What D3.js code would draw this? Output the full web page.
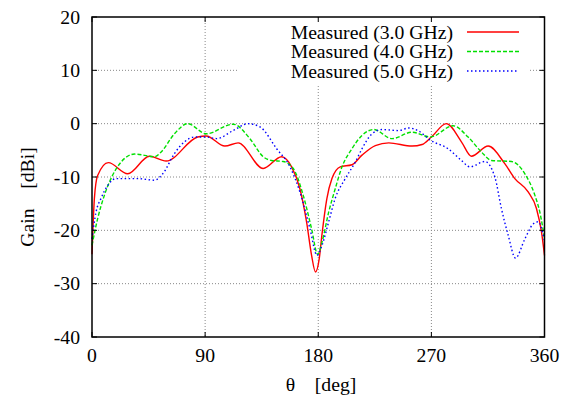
<!DOCTYPE html>
<html>
<head>
<meta charset="utf-8">
<script src="https://cdn.jsdelivr.net/npm/d3@7"></script>
<style>
  body { margin: 0; background: #fff; }
  text { font-family: "Liberation Serif", "DejaVu Serif", serif; }
</style>
</head>
<body>
<svg id="chart" width="564" height="403"></svg>
<script>
// measured gain patterns
var theta3 = [0, 1.9, 4.5, 13, 28.4, 45.7, 59, 84, 90.8, 105.7, 116.3, 136.2, 150.8, 158.8, 165.4, 170.7, 174.7, 177.8, 180.8, 182.9, 186.9, 190.9, 197.5, 206.8, 214.8, 225.4, 236.1, 254.6, 262.6, 270, 281.9, 293.9, 301.8, 315.2, 328.4, 336.4, 347, 353.6, 357.6, 360];
var gain3  = [-24.5, -14, -9.7, -7.3, -9.4, -6.1, -7.0, -2.5, -2.3, -4.2, -3.6, -8.4, -6.2, -8.1, -12.2, -18.4, -24.7, -27.8, -25.3, -20.9, -14, -10.3, -8.1, -7.7, -5.9, -4.1, -3.6, -4.2, -3.9, -2.5, 0, -3.4, -6.1, -4.2, -7.5, -10.3, -12.8, -15.9, -20.3, -24.7];

var theta4 = [0, 4.5, 9.9, 15.1, 23.1, 33.8, 49.7, 55, 65.6, 76.2, 90.8, 112.3, 125.6, 136.2, 142.9, 152.1, 160.1, 168, 174.7, 179.5, 183, 188.3, 193.5, 198.9, 206.8, 214.8, 224.1, 238.7, 254.6, 269.2, 287.3, 299.2, 309.8, 317.8, 333.7, 344.4, 352.3, 356.3, 360];
var gain4  = [-22.8, -17.8, -13.4, -10.3, -7.2, -5.7, -6.2, -5.3, -1.9, 0, -1.9, -0.1, -2.8, -6.2, -6.9, -7.1, -8.4, -13.4, -19.7, -24.5, -22.2, -16.6, -12.2, -8.1, -4.7, -2.2, -1.1, -2.8, -1.6, -2.5, -0.4, -2.5, -5.3, -6.9, -7.1, -9.4, -13.4, -16.6, -21.5];

var theta5 = [0, 3.2, 7.2, 12.5, 19.1, 36.4, 49.7, 56.3, 65.6, 73.6, 81.6, 90.8, 99.1, 112.3, 124.2, 133.6, 146.9, 157.5, 165.4, 173.4, 179, 183, 188.3, 193.5, 201.5, 209.5, 214.8, 222.8, 230.7, 244, 252, 260, 269.2, 283.3, 293.9, 300.6, 312.5, 320.5, 325.7, 331.1, 336.9, 344.4, 351, 355, 360];
var gain5  = [-21.6, -16.6, -14, -11.6, -10.3, -10.3, -10.6, -9.4, -5.6, -3.4, -2.5, -2.5, -2.8, -1.3, 0, -0.6, -4.7, -8.1, -12.8, -19.7, -24.7, -22.8, -18.4, -14, -10.3, -7.2, -4.7, -1.9, -1.1, -1.3, -0.8, -1.4, -3.1, -4.7, -6.9, -8.1, -7.1, -10, -15.9, -20.9, -25.2, -21.6, -18.8, -18.4, -22];

var seriesNames  = ["Measured (3.0 GHz)", "Measured (4.0 GHz)", "Measured (5.0 GHz)"];
var seriesColors = ["#ff0000", "#00e000", "#0000ff"];
var seriesDash   = [null, "4,2", "1.5,2.5"];

var xTicks = [0, 90, 180, 270, 360];
var yTicks = [-40, -30, -20, -10, 0, 10, 20];

var svg = d3.select("#chart");
var pLeft = 92, pRight = 544.5, pTop = 17, pBottom = 337;
var fs = 19.7;

var x = d3.scaleLinear().domain([0, 360]).range([pLeft, pRight]);
var y = d3.scaleLinear().domain([-40, 20]).range([pBottom, pTop]);

// grid
var grid = svg.append("g").attr("stroke", "#888").attr("stroke-dasharray", "1,2").attr("stroke-width", 1);
grid.selectAll(".gx").data(xTicks.slice(1, -1)).enter().append("line")
  .attr("x1", d => x(d)).attr("x2", d => x(d)).attr("y1", pTop).attr("y2", pBottom);
grid.selectAll(".gy").data(yTicks.slice(1, -1)).enter().append("line")
  .attr("y1", d => y(d)).attr("y2", d => y(d)).attr("x1", pLeft).attr("x2", pRight);

// white box behind the key
svg.append("rect").attr("x", 238).attr("y", 19).attr("width", 292).attr("height", 66).attr("fill", "#fff");

// curves
var line = d3.line().x(d => x(d[0])).y(d => y(d[1])).curve(d3.curveMonotoneX);
var data = [d3.zip(theta3, gain3), d3.zip(theta4, gain4), d3.zip(theta5, gain5)];
var plot = svg.append("g");
data.forEach(function(s, i) {
  plot.append("path").datum(s)
    .attr("d", line)
    .attr("fill", "none")
    .attr("stroke", seriesColors[i])
    .attr("stroke-width", 1.4)
    .attr("stroke-dasharray", seriesDash[i]);
});

// frame + inward ticks on all sides
svg.append("rect").attr("x", pLeft).attr("y", pTop).attr("width", pRight - pLeft).attr("height", pBottom - pTop)
  .attr("fill", "none").attr("stroke", "#000").attr("stroke-width", 1.5);

var tl = 5;
var ticks = svg.append("g").attr("stroke", "#000").attr("stroke-width", 1);
yTicks.forEach(function(t) {
  ticks.append("line").attr("x1", pLeft).attr("x2", pLeft + tl).attr("y1", y(t)).attr("y2", y(t));
  ticks.append("line").attr("x1", pRight).attr("x2", pRight - tl).attr("y1", y(t)).attr("y2", y(t));
});
xTicks.forEach(function(t) {
  ticks.append("line").attr("x1", x(t)).attr("x2", x(t)).attr("y1", pBottom).attr("y2", pBottom - tl);
  ticks.append("line").attr("x1", x(t)).attr("x2", x(t)).attr("y1", pTop).attr("y2", pTop + tl);
});

// tick labels
svg.selectAll(".yl").data(yTicks).enter().append("text")
  .attr("x", pLeft - 12).attr("y", d => y(d) + 6.5)
  .attr("text-anchor", "end").attr("font-size", fs).text(d => d);
svg.selectAll(".xl").data(xTicks).enter().append("text")
  .attr("x", d => x(d)).attr("y", 362)
  .attr("text-anchor", "middle").attr("font-size", fs).text(d => d);

// axis titles
svg.append("text").attr("x", 321).attr("y", 391).attr("text-anchor", "middle")
  .attr("font-size", fs).attr("xml:space", "preserve").text("θ    [deg]");
svg.append("text").attr("transform", "translate(34,197) rotate(-90)").attr("text-anchor", "middle")
  .attr("font-size", fs).attr("xml:space", "preserve").text("Gain    [dBi]");

// key
seriesNames.forEach(function(n, i) {
  var ky = 32 + i * 19.5;
  svg.append("text").attr("x", 453).attr("y", ky + 6.5).attr("text-anchor", "end")
    .attr("font-size", fs).text(n);
  svg.append("line").attr("x1", 467).attr("x2", 519).attr("y1", ky).attr("y2", ky)
    .attr("stroke", seriesColors[i]).attr("stroke-width", 1.4)
    .attr("stroke-dasharray", seriesDash[i]);
});
</script>
</body>
</html>
